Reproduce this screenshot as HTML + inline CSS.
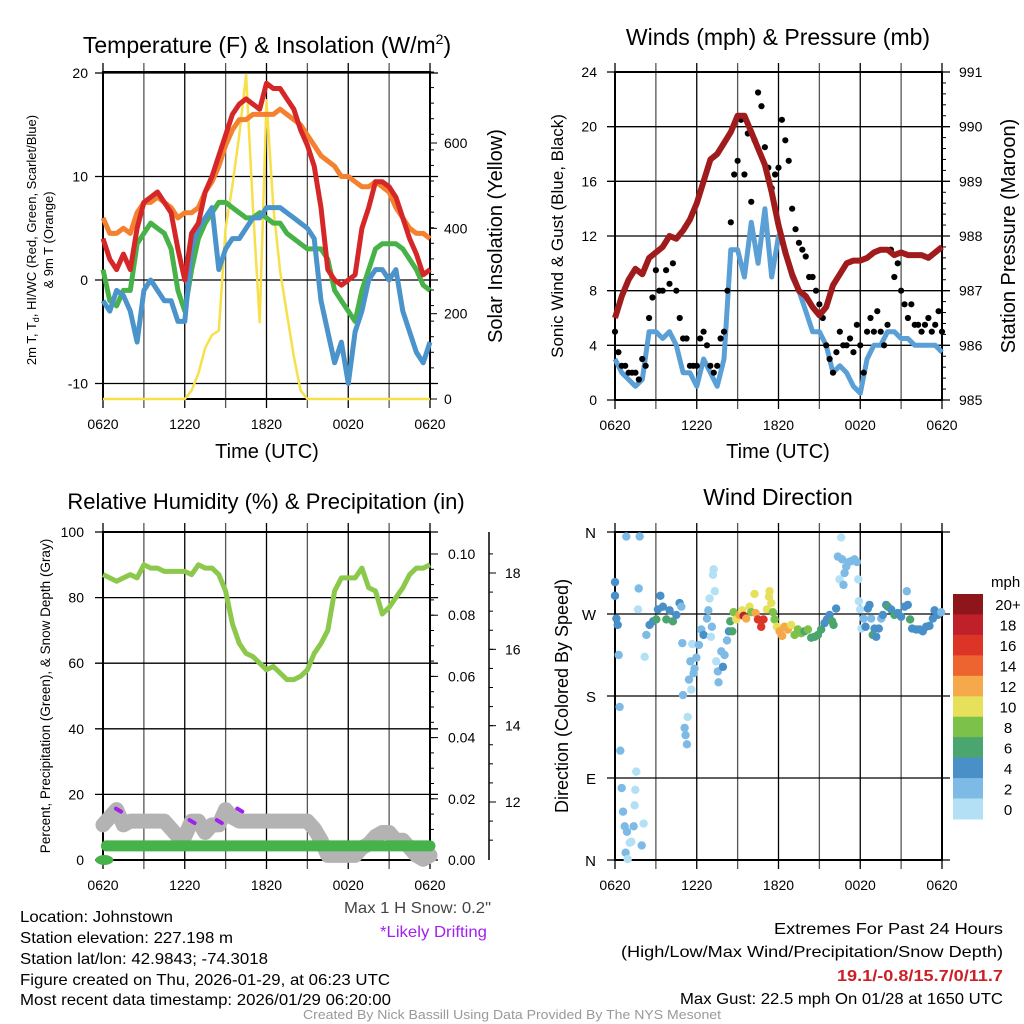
<!DOCTYPE html>
<html><head><meta charset="utf-8"><style>
html,body{margin:0;padding:0;background:#fff;}
svg{display:block;font-family:"Liberation Sans",sans-serif;}
</style></head><body>
<svg id="root" width="1024" height="1024" viewBox="0 0 1024 1024" xmlns="http://www.w3.org/2000/svg">
<g id="g1"></g>
<g id="g2"></g>
<g id="g3"></g>
<g id="g4"></g>
<g font-size="16" fill="#000">
<text x="20" y="922" textLength="153" lengthAdjust="spacingAndGlyphs">Location: Johnstown</text>
<text x="20" y="943" textLength="213" lengthAdjust="spacingAndGlyphs">Station elevation: 227.198 m</text>
<text x="20" y="964" textLength="248" lengthAdjust="spacingAndGlyphs">Station lat/lon: 42.9843; -74.3018</text>
<text x="20" y="985" textLength="370" lengthAdjust="spacingAndGlyphs">Figure created on Thu, 2026-01-29, at 06:23 UTC</text>
<text x="20" y="1005" textLength="371" lengthAdjust="spacingAndGlyphs">Most recent data timestamp: 2026/01/29 06:20:00</text>
<text x="344" y="913" fill="#444" textLength="147" lengthAdjust="spacingAndGlyphs">Max 1 H Snow: 0.2"</text>
<text x="380" y="937" fill="#a020f0" textLength="107" lengthAdjust="spacingAndGlyphs">*Likely Drifting</text>
<text x="774" y="934" textLength="229" lengthAdjust="spacingAndGlyphs">Extremes For Past 24 Hours</text>
<text x="621" y="957" textLength="382" lengthAdjust="spacingAndGlyphs">(High/Low/Max Wind/Precipitation/Snow Depth)</text>
<text x="837" y="981" fill="#cc2027" font-weight="bold" textLength="166" lengthAdjust="spacingAndGlyphs">19.1/-0.8/15.7/0/11.7</text>
<text x="680" y="1004" textLength="323" lengthAdjust="spacingAndGlyphs">Max Gust: 22.5 mph On 01/28 at 1650 UTC</text>
<text x="303" y="1019" font-size="13" fill="#999" textLength="418" lengthAdjust="spacingAndGlyphs">Created By Nick Bassill Using Data Provided By The NYS Mesonet</text>
</g>
</svg>
<script>
// ---- data (half-hour steps from 0620 UTC) ----
const timeTicks = ["0620","1220","1820","0020","0620"];
const tempTicks = [20,10,0,-10];
const solarTicks = [0,200,400,600];
const tempRed = [4,2,1,2.5,1,5,7.5,8,8.5,7.5,6.5,3,0,4.5,5.5,8.5,10,12,14,16,17,17.5,17,16.5,19,18.5,18.5,17.5,16.5,14.5,13,11,7,1,0,-0.5,0,0.5,5,7,9.5,9.5,9,8,6,4,2.5,0.5,1];
const temp9m = [6,4.5,4.5,5,4.5,6.5,7.5,7.5,8,7.5,7,6,6.5,6.5,7,8.5,9.5,11,13,14.5,15.5,15.5,16,16,16,16,16.5,16,15.5,15,14,13,12,11.5,11,10,10,9.5,9,9,9.5,9,8.5,7,6,5,4.5,4.5,4];
const dewpoint = [1,-2,-2.5,-1,-1,3.5,4.5,5.5,5,4.5,3,-1,-3,1,4,5.5,6.5,7.5,7.5,7,6.5,6,6,6.5,6,5.5,5.5,4.5,4,3.5,3,3,3,2,-1,-2,-3,-4,-1,1,3,3.5,3.5,3.5,3,2,1,-0.5,-1];
const windChill = [-2,-3,-1,-1.5,-3,-6,-1,0,-1,-2,-2,-4,-4,3,5,6,7,1,3,4,4,5,6,6,7,7,7,6.5,6,5.5,5,4,-2,-5,-8,-6,-10,-5,-3,0,1,1,0,1,-3,-5,-7,-8,-6];
const solar = [0,0,0,0,0,0,0,0,0,0,0,0,0,20,60,120,150,160,400,500,620,760,450,180,700,450,300,200,100,20,0,0,0,0,0,0,0,0,0,0,0,0,0,0,0,0,0,0,0];
const windTicks = [0,4,8,12,16,20,24];
const presTicks = [985,986,987,988,989,990,991];
const pressure = [986.5,986.9,987.2,987.4,987.3,987.6,987.7,987.8,988,987.95,988.1,988.3,988.6,989,989.4,989.5,989.7,989.9,990.2,990.2,989.9,989.6,989.3,988.8,988.2,987.7,987.3,987,986.9,986.7,986.55,986.7,987.1,987.3,987.5,987.55,987.55,987.6,987.7,987.75,987.75,987.65,987.7,987.65,987.65,987.65,987.6,987.7,987.8];
const windSpeed = [3,2,1.5,1,1.5,5,5,4.5,5,4,2,2,1,3,2,1,3,11,11,9,13,10,14,9,12,11,9,8,6.5,5,5,4,2,2.5,2,1,0.5,3,4,4,5,5,4.5,4.5,4,4,4,4,3.5];
// gusts at quarter-hour steps
const gusts = [5,3.5,2.5,2.5,2,2,2,1.5,3,2.5,6,7.5,9.5,8,8,9.5,8.5,10,8,6,4.5,4.5,2.5,2.5,2.5,4.5,5,4,2.5,2,2.5,4.5,5,8,13,16.5,17.5,20.5,16.5,19.5,14.5,19,22.5,21.5,18.5,17,15.5,16.5,17,20.5,19,17.5,14,12.5,11.5,11,10.5,9,9,8,7,6,4,3,2,3.5,5,4,4,4.5,3.5,5.5,4,2,5,6,5,6.5,5,4,5.5,11,9,10,8,7,6,7,5.5,5.5,5,5.5,6,5,5.5,6.5,5];
const rhTicks = [0,20,40,60,80,100];
const precipTicks = ["0.00","0.02","0.04","0.06","0.08","0.10"];
const snowTicks = [12,14,16,18];
const humidity = [87,86,85,86,87,86,90,89,89,88,88,88,88,87,90,89,89,87,82,72,66,63,62,60,58,59,57,55,55,56,58,63,66,70,82,86,86,86,89,83,82,75,77,80,83,87,89,89,90];
const precip = [0.0046,0.0046,0.0046,0.0046,0.0046,0.0046,0.0046,0.0046,0.0046,0.0046,0.0046,0.0046,0.0046,0.0046,0.0046,0.0046,0.0046,0.0046,0.0046,0.0046,0.0046,0.0046,0.0046,0.0046,0.0046,0.0046,0.0046,0.0046,0.0046,0.0046,0.0046,0.0046,0.0046,0.0046,0.0046,0.0046,0.0046,0.0046,0.0046,0.0046,0.0046,0.0046,0.0046,0.0046,0.0046,0.0046,0.0046,0.0046,0.0046];
const snowDepth = [11.4,11.6,11.8,11.4,11.5,11.5,11.5,11.5,11.5,11.5,11.3,11.1,11.1,11.5,11.5,11.2,11.4,11.4,11.8,11.6,11.5,11.5,11.5,11.5,11.5,11.5,11.5,11.5,11.5,11.5,11.5,11.3,11.0,10.6,10.6,10.6,10.6,10.6,10.8,10.9,11.1,11.2,11.2,11.0,11.0,10.8,10.6,10.5,10.6];
const driftTimes = [1.1,6.5,8.5,10.0,19.6];
const driftDepth = [11.8,11.5,11.5,11.8,10.9];
const dirTicks = ["N","E","S","W","N"];
const dirTimes = [0,0,0.1,0.2,0.27,0.34,0.39,0.49,0.59,0.83,0.71,0.88,1.08,0.78,0.93,1.2,1.44,1.56,1.49,1.37,1.81,1.74,1.69,2.18,2.1,1.96,2.3,2.54,2.79,3.03,3.15,3.33,3.52,3.77,4.01,4.25,4.5,4.74,4.87,4.94,4.99,5.11,5.18,5.28,5.33,5.43,5.53,5.6,5.67,5.77,5.84,5.97,6.16,6.33,6.5,6.75,6.85,6.94,7.04,7.11,7.19,7.24,7.33,7.43,7.55,7.6,7.8,7.92,8.04,8.22,8.36,8.46,8.61,8.7,8.9,9.14,9.34,9.44,9.63,9.88,10,10.24,10.32,10.49,10.73,10.9,11.15,11.3,11.34,11.47,11.59,11.71,11.88,12.08,12.27,12.44,12.69,12.93,13.18,13.42,13.67,13.91,14.16,14.4,14.65,14.89,15.13,15.38,15.55,15.75,15.94,16.04,16.23,16.36,16.48,16.6,16.67,16.77,16.85,16.97,17.16,17.33,17.58,17.75,17.85,17.9,17.99,18.09,18.24,18.39,18.56,18.68,18.8,18.92,19.05,19.17,19.36,19.54,19.66,19.9,20.02,20.27,20.51,20.76,21,21.25,21.42,21.49,21.66,21.81,22.1,22.35,22.59,22.84,23.08,23.33,23.45,23.69,23.94];
const dirDeg = [305,290,265,258,225,168,120,79,53,355,37,31,19,8,1,20,60,97,77,37,355,298,275,223,40,16,247,258,262,264,275,290,278,264,274,262,269,282,278,238,181,145,137,127,157,198,218,187,237,205,210,222,236,253,247,265,274,287,245,256,313,319,295,218,207,195,229,212,225,241,251,262,251,272,264,269,274,268,265,278,272,292,271,264,256,264,275,289,295,282,272,264,256,251,246,256,253,258,247,253,249,251,253,244,245,247,253,260,264,269,262,258,276,333,308,354,330,302,315,322,327,328,330,327,308,284,275,254,265,256,276,280,265,247,254,245,254,265,269,280,278,275,269,271,267,278,295,280,264,254,253,253,251,256,257,265,274,269,272];
const dirSpeed = [4,4,4,4,3,3,3,3,3,3,2,3,1,3,1,1,1,1,1,3,3,2,1,1,1,3,3,4,4,6,4,4,4,6,4,6,4,4,3,3,3,3,3,3,1,3,3,1,1,3,3,3,3,3,4,3,3,1,1,2,1,1,1,1,3,3,3,4,3,3,4,6,6,8,10,12,10,18,12,10,8,10,12,16,17,16,10,10,10,10,8,8,10,12,12,12,12,10,8,8,8,7,8,6,6,6,6,4,4,4,6,6,4,2,1,1,2,2,2,2,2,2,2,2,1,1,1,1,2,4,4,4,3,6,4,4,4,2,4,4,6,4,6,4,4,4,3,4,6,4,4,4,4,4,4,4,4,4,3];
const cbLabels = ["20+","18","16","14","12","10","8","6","4","2","0"];
const cbColors = ["#8e1519","#c0202a","#dd3428","#ee6430","#f5a94a","#e6e05a","#7cc24a","#4aa56e","#4a90c8","#7dbbe6","#b3e0f5"];

const NS="http://www.w3.org/2000/svg";
function mk(parent,tag,attrs,text){const e=document.createElementNS(NS,tag);for(const k in attrs)e.setAttribute(k,attrs[k]);if(text!==undefined)e.textContent=text;parent.appendChild(e);return e;}
function lin(d0,d1,r0,r1){return v=>r0+(v-d0)*(r1-r0)/(d1-d0);}
function poly(arr,xs,ys,step){return arr.map((v,i)=>xs(i*step).toFixed(1)+","+ys(v).toFixed(1)).join(" ");}

function frame(g,x0,x1,y0,y1,hGrid){
  for(let h=0;h<=24;h+=3){const x=x0+h*(x1-x0)/24;
    const l=mk(g,"line",{x1:x,x2:x,y1:y0-9,y2:y1+9,stroke:h%6==0?"#000":"#555","stroke-width":1.3});
    
    }
  hGrid.forEach(y=>{const l=mk(g,"line",{x1:x0-8,x2:x1+8,y1:y,y2:y,stroke:"#000","stroke-width":1.3});
    
    });
  const r=mk(g,"rect",{x:x0,y:y0,width:x1-x0,height:y1-y0,fill:"none",stroke:"#000","stroke-width":2});
  
  
  timeTicks.forEach((t,i)=>{const x=x0+i*(x1-x0)/4;
    const tx=mk(g,"text",{x:x,y:y1+30,"text-anchor":"middle","font-size":14},t);
    
    });
}
function minor(g,x,y0,y1,n,dir){for(let i=0;i<=n;i++){const y=y0+i*(y1-y0)/n;mk(g,"line",{x1:x,x2:x+dir*4,y1:y,y2:y,stroke:"#000","stroke-width":1});}}

// ---------- Panel 1 ----------
(function(){
 const g=document.getElementById("g1");const X0=103,X1=430;
 const xs=lin(0,24,X0,X1), ys=lin(0,10,280,176.5), ss=lin(0,600,399,143);
 frame(g,X0,X1,72,399,tempTicks.map(ys));
 tempTicks.forEach(v=>{const t=mk(g,"text",{x:88,y:ys(v)+5,"text-anchor":"end","font-size":14},v);
   });
 solarTicks.forEach(v=>{const t=mk(g,"text",{x:444,y:ss(v)+5,"font-size":14},v);
   
   mk(g,"line",{x1:X1,x2:X1+7,y1:ss(v),y2:ss(v),stroke:"#000"});});
 minor(g,X1,72,399,21,1);
 const series=[[solar,"#f7e04a",2.5,"solar-line"],[temp9m,"#f4812f",5,"temp-9m-line"],[dewpoint,"#47b247",5,"dewpoint-line"],[windChill,"#4b93cb",5,"windchill-line"],[tempRed,"#d62728",5,"temperature-line"]];
 series.forEach(s=>{const p=mk(g,"polyline",{points:poly(s[0],xs,s[0]===solar?ss:ys,0.5),fill:"none",stroke:s[1],"stroke-width":s[2],"stroke-linejoin":"round"});
   });
 const t=mk(g,"text",{x:267,y:53,"text-anchor":"middle","font-size":23});
 t.innerHTML='Temperature (F) &amp; Insolation (W/m<tspan dy="-9" font-size="14">2</tspan><tspan dy="9">)</tspan>';
 
 const xl=mk(g,"text",{x:267,y:458,"text-anchor":"middle","font-size":20},"Time (UTC)");
 
 const yl=mk(g,"text",{transform:"translate(36,240) rotate(-90)","text-anchor":"middle","font-size":13});
 yl.innerHTML='2m T, T<tspan dy="3" font-size="9">d</tspan><tspan dy="-3">, HI/WC (Red, Green, Scarlet/Blue)</tspan>';
 
 const yl2=mk(g,"text",{transform:"translate(53,240) rotate(-90)","text-anchor":"middle","font-size":13},"& 9m T (Orange)");
 
 const yr=mk(g,"text",{transform:"translate(502,236) rotate(-90)","text-anchor":"middle","font-size":20},"Solar Insolation (Yellow)");
 
})();

// ---------- Panel 2 ----------
(function(){
 const g=document.getElementById("g2");const X0=615,X1=942;
 const xs=lin(0,24,X0,X1), ys=lin(0,24,400,72), ps=lin(985,991,400,72);
 frame(g,X0,X1,72,400,windTicks.map(ys));
 windTicks.forEach(v=>{const t=mk(g,"text",{x:597,y:ys(v)+5,"text-anchor":"end","font-size":14},v);
   });
 presTicks.forEach(v=>{const t=mk(g,"text",{x:959,y:ps(v)+5,"font-size":14},v);
   });
 minor(g,X1,72,400,30,1);
 const w=mk(g,"polyline",{points:poly(windSpeed,xs,ys,0.5),fill:"none",stroke:"#5a9fd6","stroke-width":5,"stroke-linejoin":"round"});
 
 gusts.forEach((v,i)=>{const c=mk(g,"circle",{cx:xs(i*0.25),cy:ys(v),r:3.1,fill:"#000"});
   });
 const p=mk(g,"polyline",{points:poly(pressure,xs,ps,0.5),fill:"none",stroke:"#a01c1c","stroke-width":6,"stroke-linejoin":"round"});
 
 const t=mk(g,"text",{x:778,y:45,"text-anchor":"middle","font-size":23},"Winds (mph) & Pressure (mb)");
 
 const xl=mk(g,"text",{x:778,y:458,"text-anchor":"middle","font-size":20},"Time (UTC)");
 
 const yl=mk(g,"text",{transform:"translate(563,236) rotate(-90)","text-anchor":"middle","font-size":17},"Sonic Wind & Gust (Blue, Black)");
 
 const yr=mk(g,"text",{transform:"translate(1015,236) rotate(-90)","text-anchor":"middle","font-size":20},"Station Pressure (Maroon)");
 
})();

// ---------- Panel 3 ----------
(function(){
 const g=document.getElementById("g3");const X0=103,X1=430;
 const xs=lin(0,24,X0,X1), ys=lin(0,100,860,532), ps=lin(0,0.1,860,554), ss=lin(12,18,802,573);
 frame(g,X0,X1,532,860,rhTicks.map(ys));
 rhTicks.forEach(v=>{const t=mk(g,"text",{x:84,y:ys(v)+5,"text-anchor":"end","font-size":14},v);
   });
 precipTicks.forEach((v,i)=>{const y=ps(i*0.02);mk(g,"line",{x1:X1,x2:X1+8,y1:y,y2:y,stroke:"#000"});
   const t=mk(g,"text",{x:448,y:y+5,"font-size":14},v);
   });
 minor(g,X1,554,860,20,1);
 mk(g,"line",{x1:489,x2:489,y1:532,y2:860,stroke:"#000","stroke-width":1.5});
 for(let v=11;v<=18.5;v+=0.5){mk(g,"line",{x1:489,x2:493,y1:ss(v),y2:ss(v),stroke:"#000"});}
 snowTicks.forEach(v=>{mk(g,"line",{x1:489,x2:496,y1:ss(v),y2:ss(v),stroke:"#000"});
   const t=mk(g,"text",{x:505,y:ss(v)+5,"font-size":14},v);
   });
 const s=mk(g,"polyline",{points:poly(snowDepth,xs,ss,0.5),fill:"none",stroke:"#b3b3b3","stroke-width":15,"stroke-linejoin":"round","stroke-linecap":"round"});
 
 driftTimes.forEach((t,i)=>{const c=mk(g,"line",{x1:xs(t)-2,x2:xs(t)+3,y1:ss(driftDepth[i])-1,y2:ss(driftDepth[i])+2,stroke:"#a020f0","stroke-width":4,"stroke-linecap":"round"});
   });
 const pr=mk(g,"polyline",{points:precip.map((v,i)=>xs(Math.max(i*0.5,0.25)).toFixed(1)+","+ps(v).toFixed(1)).join(" "),fill:"none",stroke:"#45b24a","stroke-width":11,"stroke-linecap":"round"});
 
 const b=mk(g,"ellipse",{cx:xs(0.1),cy:ps(0),rx:9,ry:5,fill:"#45b24a"});
 
 const h=mk(g,"polyline",{points:poly(humidity,xs,ys,0.5),fill:"none",stroke:"#8cc84b","stroke-width":5,"stroke-linejoin":"round"});
 
 const t=mk(g,"text",{x:266,y:509,"text-anchor":"middle","font-size":22},"Relative Humidity (%) & Precipitation (in)");
 
 const yl=mk(g,"text",{transform:"translate(50,696) rotate(-90)","text-anchor":"middle","font-size":13.5},"Percent, Precipitation (Green), & Snow Depth (Gray)");
 
})();

// ---------- Panel 4 ----------
(function(){
 const g=document.getElementById("g4");const X0=615,X1=942;
 const xs=lin(0,24,X0,X1), ds=lin(0,360,860,532);
 frame(g,X0,X1,532,860,[0,90,180,270,360].map(ds));
 dirTicks.forEach((v,i)=>{const t=mk(g,"text",{x:596,y:ds(i*90)+6,"text-anchor":"end","font-size":15},v);
   });
 function col(s){const k=Math.min(10,Math.floor(s/2));return cbColors[10-k];}
 dirTimes.forEach((t,i)=>{const c=mk(g,"circle",{cx:xs(t),cy:ds(dirDeg[i]),r:4.2,fill:col(dirSpeed[i])});
   });
 const t=mk(g,"text",{x:778,y:505,"text-anchor":"middle","font-size":23},"Wind Direction");
 
 const yl=mk(g,"text",{transform:"translate(568,696) rotate(-90)","text-anchor":"middle","font-size":18},"Direction (Colored By Speed)");
 
 const cb=mk(g,"g",{});
 
 const bh=(819-594)/11;
 cbColors.forEach((c,i)=>{mk(cb,"rect",{x:953,y:594+i*bh,width:30,height:bh+0.5,fill:c});
   const tx=mk(cb,"text",{x:1008,y:594+i*bh+bh/2+6,"text-anchor":"middle","font-size":15},cbLabels[i]);
   });
 const u=mk(cb,"text",{x:991,y:587,"font-size":15},"mph");
 
})();
</script>
</body></html>
